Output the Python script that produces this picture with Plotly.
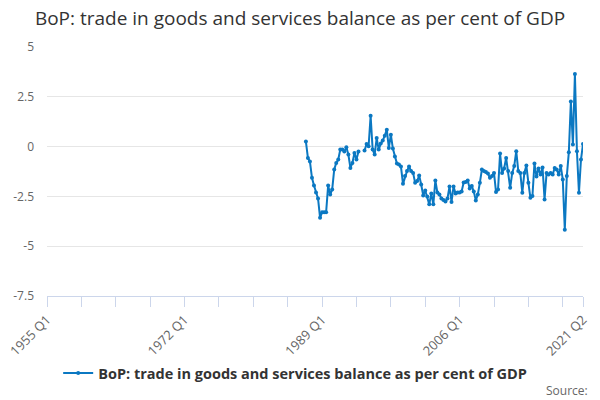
# BoP: trade in goods and services balance as per cent of GDP
# quarterly line chart, 1955 Q1 - 2021 Q2 axis, data from 1987 Q1

import plotly.graph_objects as go

# Quarter categories on the axis
first_year, last_year, last_q = 1955, 2021, 2
quarters = []
for yr in range(first_year, last_year + 1):
    for q in range(1, 5):
        if yr == last_year and q > last_q:
            break
        quarters.append(f"{yr} Q{q}")

# Values (%), starting 1987 Q1
data_start = "1987 Q1"
balance = [
    0.25, -0.57, -0.75, -1.57,    # 1987
    -1.95, -2.3, -2.6, -3.57,     # 1988
    -3.3, -3.3, -3.3, -1.95,      # 1989
    -2.4, -2.15, -1.15, -0.82,    # 1990
    -0.65, -0.15, -0.15, -0.25,   # 1991
    -0.03, -0.4, -1.07, -0.82,    # 1992
    -0.32, -0.65, -0.25, None,    # 1993
    None, -0.2, 0.13, 0.02,       # 1994
    1.55, -0.15, -0.4, 0.43,      # 1995
    -0.15, 0.15, 0.3, 0.55,       # 1996
    0.85, -0.07, 0.6, -0.1,       # 1997
    -0.5, -0.85, -0.9, -1.0,      # 1998
    -1.87, -1.48, -1.23, -1.0,    # 1999
    -1.23, -1.32, -1.82, -1.73,   # 2000
    -1.45, -1.9, -2.45, -2.2,     # 2001
    -2.5, -2.9, -2.35, -2.9,      # 2002
    -1.7, -2.3, -2.4, -2.6,       # 2003
    -2.68, -2.75, -2.6, -2.0,     # 2004
    -2.78, -2.0, -2.35, -2.3,     # 2005
    -2.3, -2.25, -1.8, -1.78,     # 2006
    -1.7, -2.1, -1.98, -2.25,     # 2007
    -2.7, -2.4, -1.82, -1.15,     # 2008
    -1.23, -1.27, -1.35, -1.57,   # 2009
    -1.48, -1.32, -2.28, -2.15,   # 2010
    -0.35, -1.32, -1.1, -0.57,    # 2011
    -1.23, -2.07, -1.32, -0.98,   # 2012
    -0.23, -1.23, -1.32, -2.32,   # 2013
    -1.32, -0.95, -1.82, -2.57,   # 2014
    -2.48, -0.85, -1.5, -1.1,     # 2015
    -1.4, -1.05, -2.65, -1.32,    # 2016
    -1.4, -1.32, -1.4, -1.07,     # 2017
    -1.15, -1.4, -0.98, -1.65,    # 2018
    -4.18, -1.48, -0.28, 2.27,    # 2019
    0.1, 3.65, -0.23, -2.32,      # 2020
    -0.65, 0.13,                  # 2021
]

y_ticks = [5, 2.5, 0, -2.5, -5, -7.5]
y_tick_labels = ["5", "2.5", "0", "-2.5", "-5", "-7.5"]

# pad the years before the series starts
start = quarters.index(data_start)
y = [None] * start + balance

# x ticks every 17 quarters plus the last one, labels every 4th tick
x_ticks = quarters[::17] + [quarters[-1]]
x_tick_labels = [q if i % 4 == 0 else "" for i, q in enumerate(quarters[::17])]
x_tick_labels.append(quarters[-1])

series_name = "BoP: trade in goods and services balance as per cent of GDP"

fig = go.Figure(go.Scatter(
    x=quarters,
    y=y,
    mode="lines+markers",
    name=series_name,
    line=dict(color="#0b78c2", width=2),
    marker=dict(color="#0b78c2", size=4),
    connectgaps=False,
))

fig.update_layout(
    width=600,
    height=400,
    margin=dict(l=47, r=17, t=47, b=103),
    paper_bgcolor="white",
    plot_bgcolor="white",
    font=dict(family="Open Sans, sans-serif", color="#666666"),
    title=dict(
        text=series_name,
        x=0.5, xanchor="center",
        y=0.955, yanchor="middle",
        font=dict(size=19, color="#333333"),
    ),
    xaxis=dict(
        type="category",
        range=[0, len(quarters) - 1],
        tickmode="array",
        tickvals=x_ticks,
        ticktext=x_tick_labels,
        tickangle=-45,
        ticks="outside",
        ticklen=10,
        tickcolor="#ccd6eb",
        showline=True,
        linecolor="#ccd6eb",
        linewidth=1,
        showgrid=False,
        automargin=False,
        tickfont=dict(size=13, color="#666666"),
    ),
    yaxis=dict(
        range=[-7.5, 5],
        tickmode="array",
        tickvals=y_ticks,
        ticktext=y_tick_labels,
        showgrid=True,
        gridcolor="#e6e6e6",
        zeroline=False,
        showline=False,
        automargin=False,
        ticklabelstandoff=12,
        tickfont=dict(size=12, color="#666666"),
    ),
    showlegend=True,
    legend=dict(
        orientation="h",
        x=0.463, xanchor="center",
        y=-0.304, yanchor="middle",
        font=dict(size=14.5, color="#333333", weight="bold"),
        itemwidth=30,
    ),
    annotations=[dict(
        text="Source:",
        xref="paper", yref="paper",
        x=1.013, xanchor="right",
        y=-0.38, yanchor="middle",
        showarrow=False,
        font=dict(size=12, color="#666666"),
    )],
)

# page body has an 8px default margin; drop it so the chart fills the window
fig.write_html(
    "out.html",
    config={"displayModeBar": False},
    post_script="document.body.style.margin='0px';",
)
